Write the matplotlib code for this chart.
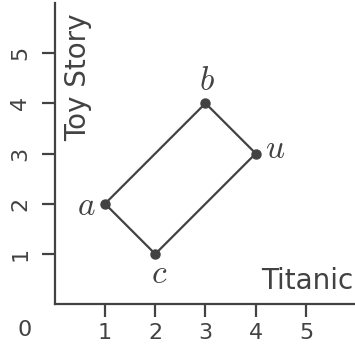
import matplotlib
matplotlib.use("Agg")
import matplotlib.pyplot as plt

# points of the rectangle
names = ["a", "b", "u", "c"]
xs = [1, 3, 4, 2]
ys = [2, 4, 3, 1]
# where the letter sits relative to its point (pixels)
offsets = {"a": (-19, -2), "b": (1, 23), "u": (19, 5), "c": (4, -19)}

ticks = [1, 2, 3, 4, 5]
col = "#424242"

plt.rcParams["mathtext.fontset"] = "cm"

fig = plt.figure(figsize=(3.55, 3.5), dpi=100)
ax = fig.add_axes([0.1542, 0.1307, 0.8493, 0.8614])

# closed path a-b-u-c-a
ax.plot(xs + xs[:1], ys + ys[:1], color=col, lw=1.6, zorder=2)
ax.plot(xs, ys, "o", color=col, ms=6.5, zorder=3)

for n, x, y in zip(names, xs, ys):
    ax.annotate(f"${n}$", xy=(x, y), xytext=offsets[n], textcoords="offset pixels",
                ha="center", va="center", fontsize=24, color=col)

ax.set_xlim(0, 6)
ax.set_ylim(0, 6)
ax.set_xticks(ticks)
ax.set_yticks(ticks)
ax.tick_params(axis="both", labelsize=16, colors=col, length=9.5, width=1.6, pad=4)
ax.tick_params(axis="y", pad=8)
for lab in ax.get_yticklabels():
    lab.set_rotation(90)
    lab.set_va("center")

for s in ["top", "right"]:
    ax.spines[s].set_visible(False)
for s in ["left", "bottom"]:
    ax.spines[s].set_color(col)
    ax.spines[s].set_linewidth(1.6)

ax.annotate("0", xy=(0, 0), xytext=(-30, -26), textcoords="offset pixels",
            ha="center", va="center", fontsize=16, color=col, annotation_clip=False)
ax.text(0.992, 0.05, "Titanic", transform=ax.transAxes, ha="right", va="baseline",
        fontsize=20, color=col)
ax.text(0.077, 0.966, "Toy Story", transform=ax.transAxes, rotation=90,
        ha="center", va="top", fontsize=20, color=col)

fig.savefig("out.png", dpi=100)
